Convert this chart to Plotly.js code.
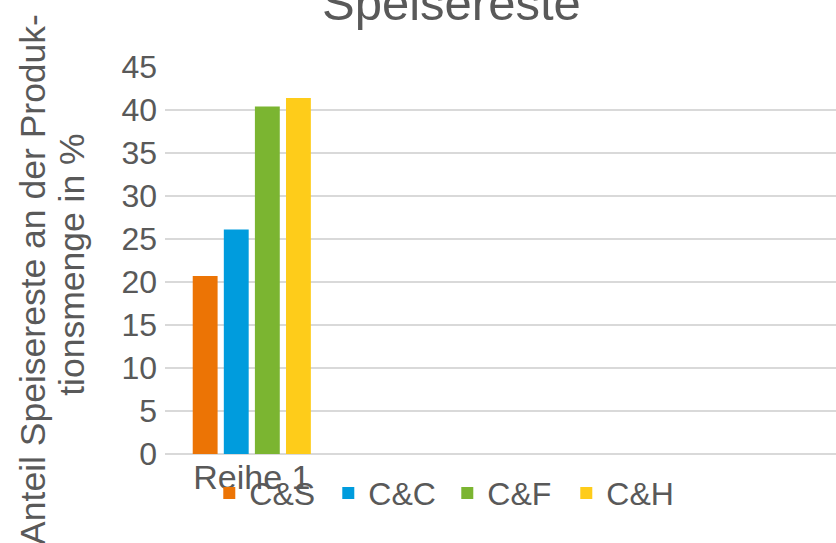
<!DOCTYPE html>
<html><head><meta charset="utf-8">
<script src="https://cdn.plot.ly/plotly-3.0.1.min.js"></script>
<style>html,body{margin:0;padding:0;background:#fff}#c{width:836px;height:543px}</style>
</head><body><div id="c"></div>
<script>
const categories = ['Reihe 1'];
const seriesNames = ['C&S', 'C&C', 'C&F', 'C&H'];
const seriesValues = [[20.7], [26.1], [40.4], [41.4]];
const seriesColors = ['#EC7405', '#009CDD', '#7BB531', '#FECC1A'];
const yTicks = [0, 5, 10, 15, 20, 25, 30, 35, 40, 45];
const yTitleLines = ['Anteil Speisereste an der Produk-', 'tionsmenge in %'];

const txt = '#595959';
const font = 'Liberation Sans, Arial, sans-serif';
const traces = seriesNames.map((n, i) => ({
  type: 'bar', name: n, x: categories, y: seriesValues[i],
  marker: {color: seriesColors[i]}
}));
const titleX = [-0.197, -0.138];
const titleY = [0.452, 0.49];
const layout = {
  width: 836, height: 543,
  margin: {l: 165, r: 0, t: 67, b: 89},
  paper_bgcolor: '#fff', plot_bgcolor: '#fff',
  font: {family: font, color: txt, size: 32},
  title: {text: 'Speisereste', font: {size: 49, color: txt, family: font},
          x: 0.54, xanchor: 'center', y: 0.995, yref: 'container', yanchor: 'middle'},
  barmode: 'group', bargap: 0.255, bargroupgap: 0.2,
  xaxis: {type: 'category', range: [-0.52, 3.5], showgrid: false, zeroline: false,
          showline: false, ticks: '', tickfont: {size: 34, color: txt}},
  yaxis: {range: [0, 45], tickvals: yTicks, ticktext: yTicks.map(String),
          showgrid: true, gridcolor: '#D9D9D9', gridwidth: 2, zeroline: true,
          zerolinecolor: '#D9D9D9', zerolinewidth: 2, showline: false, ticks: '',
          ticklen: 0, ticklabelstandoff: 7, tickfont: {size: 32, color: txt}},
  annotations: yTitleLines.map((t, i) => ({
    text: t, textangle: -90, xref: 'paper', yref: 'paper',
    x: titleX[i], y: titleY[i], xanchor: 'center', yanchor: 'middle',
    showarrow: false, font: {size: 35.5, color: txt, family: font}
  })),
  legend: {orientation: 'h', x: 0.066, xanchor: 'left', y: -0.03, yanchor: 'top',
           font: {size: 32, color: txt}, entrywidth: 74, entrywidthmode: 'pixels',
           bgcolor: 'rgba(0,0,0,0)'}
};
Plotly.newPlot('c', traces, layout, {displayModeBar: false, staticPlot: true});
</script></body></html>
